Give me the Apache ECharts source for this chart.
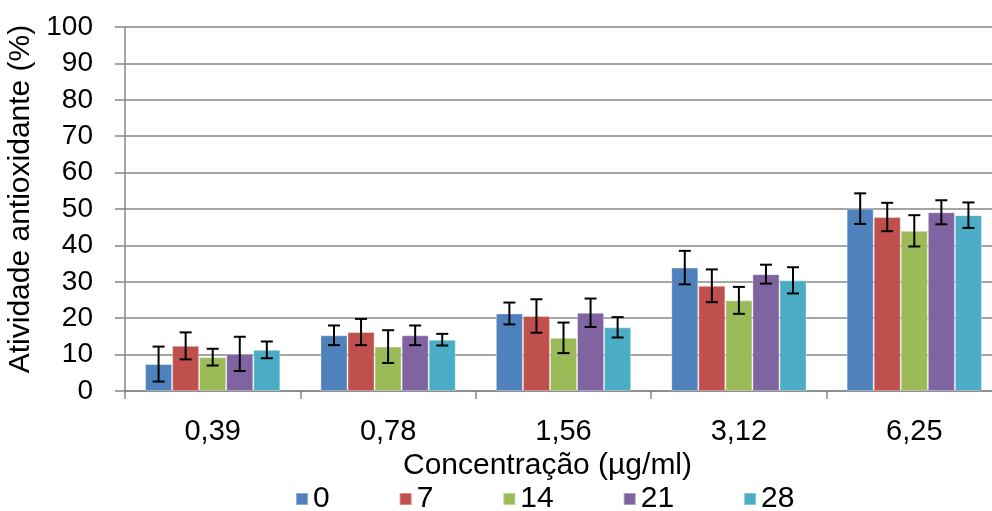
<!DOCTYPE html>
<html>
<head>
<meta charset="utf-8">
<script src="https://cdn.jsdelivr.net/npm/echarts@6/dist/echarts.min.js"></script>
<style>
html,body{margin:0;padding:0;background:#fff;}
#chart{width:992px;height:511px;}
</style>
</head>
<body>
<div id="chart"></div>
<script>
const categories = ['0,39', '0,78', '1,56', '3,12', '6,25'];
const seriesNames = ['0', '7', '14', '21', '28'];
const values0 = [7.4, 15.3, 21.3, 33.9, 50.1];
const values7 = [12.4, 16.2, 20.6, 28.9, 47.8];
const values14 = [9.3, 12.2, 14.6, 24.9, 44.0];
const values21 = [10.2, 15.3, 21.5, 32.1, 49.1];
const values28 = [11.3, 14.1, 17.5, 30.4, 48.3];
const errors0 = [4.8, 2.7, 3.0, 4.6, 4.2];
const errors7 = [3.7, 3.6, 4.6, 4.5, 3.9];
const errors14 = [2.3, 4.5, 4.2, 3.7, 4.3];
const errors21 = [4.7, 2.7, 3.9, 2.6, 3.3];
const errors28 = [2.3, 1.6, 2.8, 3.6, 3.5];
const yTicks = [0, 10, 20, 30, 40, 50, 60, 70, 80, 90, 100];

const colors = ['#4F81BD', '#C0504D', '#9BBB59', '#8064A2', '#4BACC6'];
const allValues = [values0, values7, values14, values21, values28];
const allErrors = [errors0, errors7, errors14, errors21, errors28];
const CAT_GAP = 0.2286;
const FONT = '"Liberation Sans", Arial, sans-serif';

const barSeries = seriesNames.map((name, i) => ({
  name: name,
  type: 'bar',
  data: allValues[i],
  barGap: '0%',
  barCategoryGap: (CAT_GAP * 100) + '%',
  itemStyle: { color: colors[i], borderColor: 'rgba(255,255,255,0.35)', borderWidth: 1 },
  z: 2
}));

const errSeries = seriesNames.map((name, i) => ({
  name: name + '_err',
  type: 'custom',
  z: 5,
  silent: true,
  encode: { x: 0, y: 1 },
  data: allValues[i].map((v, k) => [k, v, allErrors[i][k]]),
  renderItem: function (params, api) {
    const k = api.value(0), v = api.value(1), e = api.value(2);
    const band = api.size([1, 0])[0];
    const bw = band * (1 - CAT_GAP) / 5;
    const c = api.coord([k, v]);
    const x = c[0] + (i - 2) * bw;
    const yt = api.coord([k, v + e])[1];
    const yb = api.coord([k, v - e])[1];
    const cap = 6;
    const st = { stroke: '#000', lineWidth: 2 };
    return {
      type: 'group',
      children: [
        { type: 'line', shape: { x1: x, y1: yt, x2: x, y2: yb }, style: st },
        { type: 'line', shape: { x1: x - cap, y1: yt, x2: x + cap, y2: yt }, style: st },
        { type: 'line', shape: { x1: x - cap, y1: yb, x2: x + cap, y2: yb }, style: st }
      ]
    };
  }
}));

const chart = echarts.init(document.getElementById('chart'), null, { renderer: 'canvas' });
chart.setOption({
  animation: false,
  backgroundColor: '#fff',
  textStyle: { fontFamily: FONT },
  grid: { left: 125, top: 27, width: 877, height: 364, containLabel: false, outerBoundsMode: 'none' },
  legend: {
    data: seriesNames.map((n, i) => ({ name: n, icon: 'rect', itemStyle: { color: colors[i] } })),
    left: 290,
    top: 479,
    itemWidth: 12,
    itemHeight: 12,
    itemGap: 69,
    textStyle: { fontFamily: FONT, fontSize: 30, color: '#000' }
  },
  xAxis: {
    type: 'category',
    data: categories,
    boundaryGap: true,
    name: 'Concentração (µg/ml)',
    nameLocation: 'middle',
    nameGap: 55,
    nameTextStyle: { fontFamily: FONT, fontSize: 30, color: '#000', padding: [0, 32, 0, 0] },
    axisLine: { lineStyle: { color: '#878787', width: 1.5 } },
    axisTick: { show: true, length: 8, lineStyle: { color: '#878787', width: 1.5 }, alignWithLabel: false },
    axisLabel: { fontFamily: FONT, fontSize: 29, color: '#000', margin: 26 },
    splitLine: { show: false }
  },
  yAxis: {
    type: 'value',
    min: yTicks[0],
    max: yTicks[yTicks.length - 1],
    interval: 10,
    name: 'Atividade antioxidante (%)',
    nameLocation: 'middle',
    nameGap: 84,
    nameTextStyle: { fontFamily: FONT, fontSize: 30, color: '#000', padding: [0, 0, 0, 20] },
    axisLine: { show: true, lineStyle: { color: '#878787', width: 1.5 } },
    axisTick: { show: true, length: 10, lineStyle: { color: '#878787', width: 1.5 } },
    axisLabel: { fontFamily: FONT, fontSize: 28, color: '#000', margin: 32 },
    splitLine: { show: true, lineStyle: { color: '#878787', width: 1.5 } }
  },
  series: barSeries.concat(errSeries)
});
</script>
</body>
</html>
